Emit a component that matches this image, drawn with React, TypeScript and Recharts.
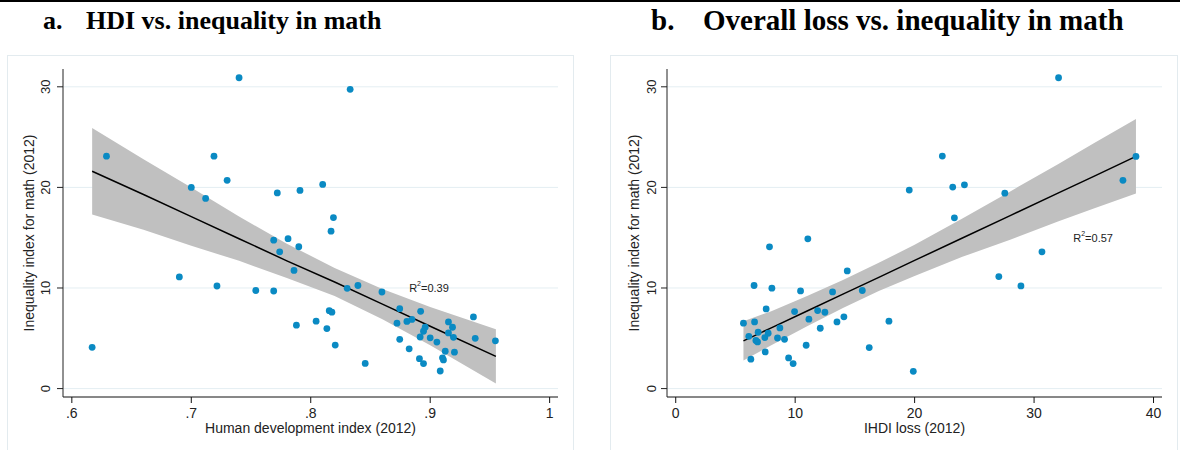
import React from "react";
import {
  ComposedChart,
  Scatter,
  Line,
  Area,
  XAxis,
  YAxis,
  CartesianGrid,
  ReferenceDot,
} from "recharts";

const yTicks = [0, 10, 20, 30];
const hdiTicks = [0.6, 0.7, 0.8, 0.9, 1];
const lossTicks = [0, 10, 20, 30, 40];

// panel a: HDI 2012 vs inequality index for math
const hdi = [
  0.617, 0.629, 0.69, 0.7, 0.712, 0.719, 0.7215, 0.73, 0.74, 0.754,
  0.769, 0.769, 0.772, 0.774, 0.781, 0.786, 0.788, 0.79, 0.791, 0.8045,
  0.81, 0.8135, 0.8155, 0.8177, 0.817, 0.819, 0.8205, 0.8305, 0.833, 0.8395,
  0.8456, 0.8596, 0.8745, 0.8722, 0.8745, 0.8805, 0.8847, 0.8824, 0.892, 0.891,
  0.8944, 0.8944, 0.8958, 0.8916, 0.9, 0.9056, 0.9084, 0.9103, 0.9111, 0.9126,
  0.9153, 0.9187, 0.9153, 0.9195, 0.9203, 0.9362, 0.9377, 0.9546,
];
const hdiIneq = [
  4.1, 23.1, 11.1, 20.0, 18.9, 23.1, 10.2, 20.7, 30.9, 9.75,
  9.7, 14.75, 19.45, 13.6, 14.9, 11.75, 6.3, 14.1, 19.7, 6.7,
  20.3, 5.97, 7.75, 7.6, 15.65, 17.0, 4.33, 9.97, 29.75, 10.25,
  2.5, 9.6, 7.94, 6.5, 4.9, 6.68, 6.88, 3.95, 7.68, 2.97,
  2.49, 5.7, 6.1, 5.13, 5.05, 4.62, 1.75, 3.06, 2.85, 3.71,
  6.63, 6.1, 5.53, 5.1, 3.62, 7.12, 5.0, 4.75,
];

// panel b: IHDI loss 2012 vs inequality index for math
const ihdiLoss = [
  19.55, 7.85, 11.06, 6.56, 8.05, 10.45, 14.36, 13.13, 15.62, 7.57,
  9.95, 11.88, 12.49, 5.67, 6.6, 11.15, 14.08, 13.5, 17.85, 8.72,
  12.1, 6.12, 6.9, 7.74, 7.46, 6.71, 6.85, 8.52, 9.11, 7.49,
  10.92, 6.29, 9.45, 9.83, 16.2, 32.05, 22.32, 23.19, 24.17, 27.55,
  23.33, 38.53, 37.44, 30.66, 27.05, 28.9, 19.89,
];
const lossIneq = [
  19.73, 14.09, 14.89, 10.25, 9.98, 9.71, 11.7, 9.61, 9.75, 7.92,
  7.66, 7.76, 7.59, 6.5, 6.63, 6.9, 7.13, 6.63, 6.7, 6.03,
  6.0, 5.2, 5.6, 5.5, 5.07, 4.78, 4.64, 5.03, 4.9, 3.64,
  4.31, 2.92, 3.05, 2.49, 4.08, 30.9, 23.11, 20.03, 20.26, 19.43,
  16.98, 23.08, 20.7, 13.6, 11.14, 10.21, 1.72,
];

// linear fit with 95% CI band
const hdiFitX = [0.617, 0.66, 0.7, 0.74, 0.78, 0.82, 0.86, 0.9, 0.955];
const hdiFit = [21.6, 19.3, 17.1, 14.9, 12.7, 10.6, 8.4, 6.2, 3.2];
const hdiLo = [17.3, 15.8, 14.2, 12.7, 11.0, 9.2, 6.9, 4.3, 0.5];
const hdiHi = [25.9, 22.8, 20.0, 17.1, 14.4, 12.0, 9.9, 8.1, 5.9];

const lossFitX = [5.67, 8, 11, 14, 17, 20, 24, 28, 32, 35, 38.53];
const lossFit = [4.74, 6.04, 7.71, 9.39, 11.06, 12.74, 14.97, 17.2, 19.43, 21.1, 23.08];
const lossLo = [2.8, 4.3, 6.2, 8.0, 9.7, 11.2, 13.1, 14.8, 16.6, 17.9, 19.4];
const lossHi = [6.7, 7.7, 9.2, 10.8, 12.5, 14.3, 16.9, 19.6, 22.3, 24.4, 26.8];

const DOT = "#0a8ac3";
const FONT = "'Liberation Sans', Arial, sans-serif";

type PanelProps = {
  xs: number[];
  ys: number[];
  fitX: number[];
  fit: number[];
  lo: number[];
  hi: number[];
  xDomain: [number, number];
  xTicks: number[];
  xFmt: (v: number) => string;
  xLabel: string;
  r2: string;
  r2At: [number, number];
  margin: { top: number; right: number; bottom: number; left: number };
  yTickMargin: number;
  yLabelX: number;
};

const AXIS_W = 40;
const AXIS_H = 30;

const Panel = (p: PanelProps) => {
  const points = p.xs.map((x, i) => ({ x, y: p.ys[i] }));
  const band = p.fitX.map((x, i) => ({ x, fit: p.fit[i], band: [p.lo[i], p.hi[i]] }));
  const plotTop = p.margin.top;
  const plotBottom = 450 - p.margin.bottom - AXIS_H;
  const plotLeft = p.margin.left + AXIS_W;
  const plotRight = 590 - p.margin.right;
  const midY = (plotTop + plotBottom) / 2;
  const midX = (plotLeft + plotRight) / 2;

  const YTick = (t: any) => (
    <text
      x={t.x}
      y={t.y}
      transform={`rotate(-90 ${t.x} ${t.y})`}
      textAnchor="middle"
      fontSize={13}
      fill="#222"
      fontFamily={FONT}
    >
      {t.payload.value}
    </text>
  );

  return (
    <ComposedChart width={590} height={450} data={band} margin={p.margin}>
      <CartesianGrid vertical={false} stroke="#e4eef2" horizontalValues={yTicks} />
      <XAxis
        type="number"
        dataKey="x"
        domain={p.xDomain}
        ticks={p.xTicks}
        allowDataOverflow
        height={AXIS_H}
        tickSize={6}
        tickMargin={5}
        tickFormatter={p.xFmt}
        tick={{ fontSize: 14, fill: "#222", fontFamily: FONT }}
        axisLine={{ stroke: "#111" }}
        tickLine={{ stroke: "#111" }}
        label={{
          value: p.xLabel,
          content: () => (
            <text
              x={midX}
              y={plotBottom + 36}
              textAnchor="middle"
              fontSize={14}
              fill="#222"
              fontFamily={FONT}
            >
              {p.xLabel}
            </text>
          ),
        }}
      />
      <YAxis
        type="number"
        domain={[-0.836, 31.77]}
        ticks={yTicks}
        allowDataOverflow
        width={AXIS_W}
        tickSize={6}
        tickMargin={p.yTickMargin}
        tick={YTick}
        axisLine={{ stroke: "#222" }}
        tickLine={{ stroke: "#222" }}
        label={{
          value: "Inequality index for math (2012)",
          content: () => (
            <text
              x={p.yLabelX}
              y={midY}
              transform={`rotate(-90 ${p.yLabelX} ${midY})`}
              textAnchor="middle"
              dominantBaseline="central"
              fontSize={14}
              fill="#222"
              fontFamily={FONT}
            >
              Inequality index for math (2012)
            </text>
          ),
        }}
      />
      <Area
        type="linear"
        dataKey="band"
        stroke="none"
        fill="#c0c0c0"
        fillOpacity={1}
        isAnimationActive={false}
      />
      <Line
        type="linear"
        dataKey="fit"
        stroke="#000"
        strokeWidth={1.5}
        dot={false}
        isAnimationActive={false}
      />
      <Scatter
        data={points}
        dataKey="y"
        isAnimationActive={false}
        shape={(s: any) => <circle cx={s.cx} cy={s.cy} r={3.4} fill={DOT} />}
      />
      <ReferenceDot
        x={p.r2At[0]}
        y={p.r2At[1]}
        r={0}
        shape={(s: any) => (
          <text x={s.cx} y={s.cy} dominantBaseline="central" fontSize={11} fill="#222" fontFamily={FONT}>
            <tspan>R</tspan>
            <tspan dy={-5} fontSize={7}>2</tspan>
            <tspan dy={5}>{p.r2}</tspan>
          </text>
        )}
      />
    </ComposedChart>
  );
};

const titleStyle: React.CSSProperties = {
  position: "absolute",
  top: 6,
  fontFamily: "'Liberation Serif', 'Times New Roman', serif",
  fontWeight: "bold",
  fontSize: 26,
  lineHeight: "30px",
  color: "#000",
  whiteSpace: "pre",
};

const titleB: React.CSSProperties = { ...titleStyle, fontSize: 29, top: 5 };

const boxStyle: React.CSSProperties = {
  position: "absolute",
  top: 55,
  height: 420,
  border: "1px solid #e3ebef",
  background: "#fff",
};

export default function App() {
  return (
    <div
      style={{
        position: "absolute",
        left: 0,
        top: 0,
        width: 1180,
        height: 450,
        background: "#fff",
        overflow: "hidden",
      }}
    >
      <div style={{ position: "absolute", left: 0, top: 0, width: 1180, height: 2, background: "#000" }} />
      <div style={{ ...titleStyle, left: 43 }}>a.</div>
      <div style={{ ...titleStyle, left: 86 }}>HDI vs. inequality in math</div>
      <div style={{ ...titleB, left: 651 }}>b.</div>
      <div style={{ ...titleB, left: 703 }}>Overall loss vs. inequality in math</div>

      <div style={{ ...boxStyle, left: 7, width: 565 }} />
      <div style={{ ...boxStyle, left: 610, width: 566 }} />

      <div style={{ position: "absolute", left: 0, top: 0 }}>
        <Panel
          xs={hdi}
          ys={hdiIneq}
          fitX={hdiFitX}
          fit={hdiFit}
          lo={hdiLo}
          hi={hdiHi}
          xDomain={[0.5926, 1.007]}
          xTicks={hdiTicks}
          xFmt={(v) => (v === 1 ? "1" : String(v).replace(/^0/, ""))}
          xLabel="Human development index (2012)"
          r2="=0.39"
          r2At={[0.8824, 10]}
          margin={{ top: 69, right: 32, bottom: 53 - AXIS_H, left: 63 - AXIS_W }}
          yTickMargin={7}
          yLabelX={29}
        />
      </div>
      <div style={{ position: "absolute", left: 590, top: 0 }}>
        <Panel
          xs={ihdiLoss}
          ys={lossIneq}
          fitX={lossFitX}
          fit={lossFit}
          lo={lossLo}
          hi={lossHi}
          xDomain={[-0.73, 40.71]}
          xTicks={lossTicks}
          xFmt={(v) => String(v)}
          xLabel="IHDI loss (2012)"
          r2="=0.57"
          r2At={[33.28, 14.96]}
          margin={{ top: 69, right: 18, bottom: 53 - AXIS_H, left: 77 - AXIS_W }}
          yTickMargin={5}
          yLabelX={44}
        />
      </div>
    </div>
  );
}
